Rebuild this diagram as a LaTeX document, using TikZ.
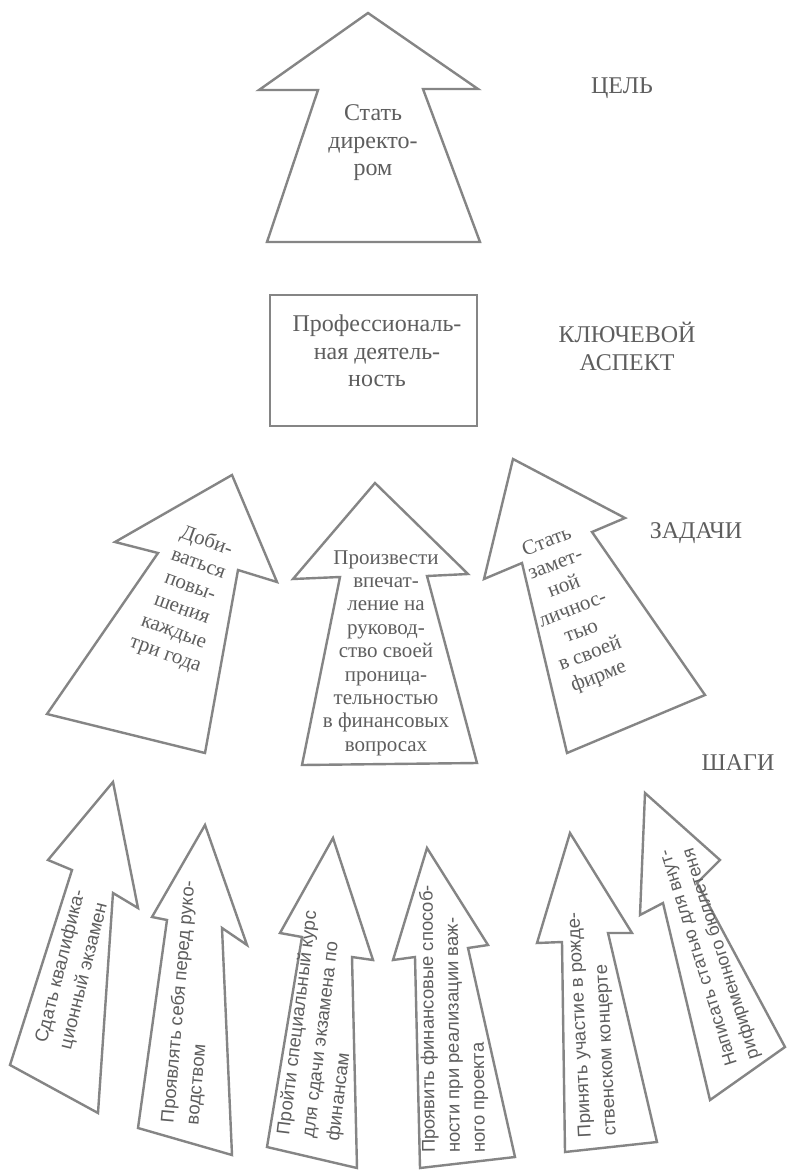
\documentclass[tikz,border=0pt]{standalone}
\usepackage{fontspec}
\setmainfont{Liberation Serif}
\newfontfamily\stepfont{Liberation Sans}
\definecolor{ln}{HTML}{858585}
\definecolor{tx}{HTML}{5E5E5E}
\begin{document}
\begin{tikzpicture}[x=1pt,y=-1pt,
  shp/.style={draw=ln, line width=2.4pt, line join=miter, fill=white},
  lbl/.style={text=tx, font=\fontsize{24}{28}\selectfont, align=center, inner sep=0pt},
  ttxt/.style={text=tx, font=\fontsize{21}{24}\selectfont, align=center, inner sep=0pt},
  stxt/.style={text=tx, font=\stepfont\fontsize{18.5}{25}\selectfont, align=left, inner sep=0pt, anchor=west},
]
\fill[white] (0,0) rectangle (788,1172);
\useasboundingbox (0,0) rectangle (788,1172);

% goal arrow
\draw[shp] (368,13) -- (478,89) -- (423,89) -- (480,242) -- (267,242) -- (318,90) -- (259,90) -- cycle;
\node[lbl, font=\fontsize{24}{27.5}\selectfont] (goal) at (373,143) {Стать\\директо-\\ром};
\node[lbl] (goalLbl) at (622,88) {ЦЕЛЬ};

% key aspect box
\node[draw=ln, line width=2.4pt, minimum width=207pt, minimum height=131pt, inner sep=0pt] (keybox) at (373.5,360.5) {};
\node[lbl, font=\fontsize{24}{27.5}\selectfont] (keytext) at (377,351) {Профессиональ-\\ная деятель-\\ность};
\node[lbl] (keyLbl) at (627,346) {КЛЮЧЕВОЙ\\АСПЕКТ};

% task arrows
\draw[shp] (232,475) -- (277,582) -- (238,570) -- (205,753) -- (47,714) -- (158,553) -- (115,542) -- cycle;
\node[ttxt, rotate=-20] (task1) at (186,598) {Доби-\\ваться\\повы-\\шения\\каждые\\три года};

\draw[shp] (375,483) -- (468,574) -- (427,576) -- (477,763) -- (302,765) -- (340,577) -- (293,579) -- cycle;
\node[ttxt, font=\fontsize{21}{23.4}\selectfont] (task2) at (386,653) {Произвести\\впечат-\\ление на\\руковод-\\ство своей\\проница-\\тельностью\\в финансовых\\вопросах};

\draw[shp] (513,459) -- (625,518) -- (592,532) -- (705,695) -- (567,753) -- (522,563) -- (484,579) -- cycle;
\node[ttxt, rotate=21] (task3) at (573,610) {Стать\\замет-\\ной\\личнос-\\тью\\в своей\\фирме};
\node[lbl] (taskLbl) at (696,533) {ЗАДАЧИ};

% step arrows
\node[lbl] (stepLbl) at (738,763) {ШАГИ};

\draw[shp] (113,782) -- (138,908) -- (113,893) -- (98,1113) -- (10,1065) -- (72,870) -- (48,860) -- cycle;
\node[stxt, rotate=76] (step1) at (54,1046) {Сдать квалифика-\\ционный экзамен};

\draw[shp] (205,825) -- (247,945) -- (222,928) -- (232,1155) -- (138,1128) -- (167,920) -- (152,917) -- cycle;
\node[stxt, rotate=85] (step2) at (181,1124) {Проявлять себя перед руко-\\водством};

\draw[shp] (333,838) -- (373,960) -- (352,957) -- (357,1168) -- (267,1147) -- (302,937) -- (280,933) -- cycle;
\node[stxt, rotate=83] (step3) at (309,1138) {Пройти специальный курс\\для сдачи экзамена по\\финансам};

\draw[shp] (427,848) -- (488,945) -- (468,948) -- (515,1157) -- (420,1168) -- (415,957) -- (393,960) -- cycle;
\node[stxt, rotate=90.5] (step4) at (455,1153) {Проявить финансовые способ-\\ности при реализации важ-\\ного проекта};

\draw[shp] (570,833) -- (632,933) -- (608,933) -- (657,1142) -- (565,1152) -- (562,942) -- (537,943) -- cycle;
\node[stxt, rotate=93] (step5) at (599,1137) {Принять участие в рожде-\\ственском концерте};

\draw[shp] (645,793) -- (720,860) -- (697,883) -- (785,1047) -- (710,1100) -- (663,903) -- (640,915) -- cycle;
\node[stxt, rotate=107.5, font=\stepfont\fontsize{18}{23}\selectfont] (step6) at (744,1062) {Написать статью для внут-\\рифирменного бюллетеня};
\end{tikzpicture}
\end{document}
